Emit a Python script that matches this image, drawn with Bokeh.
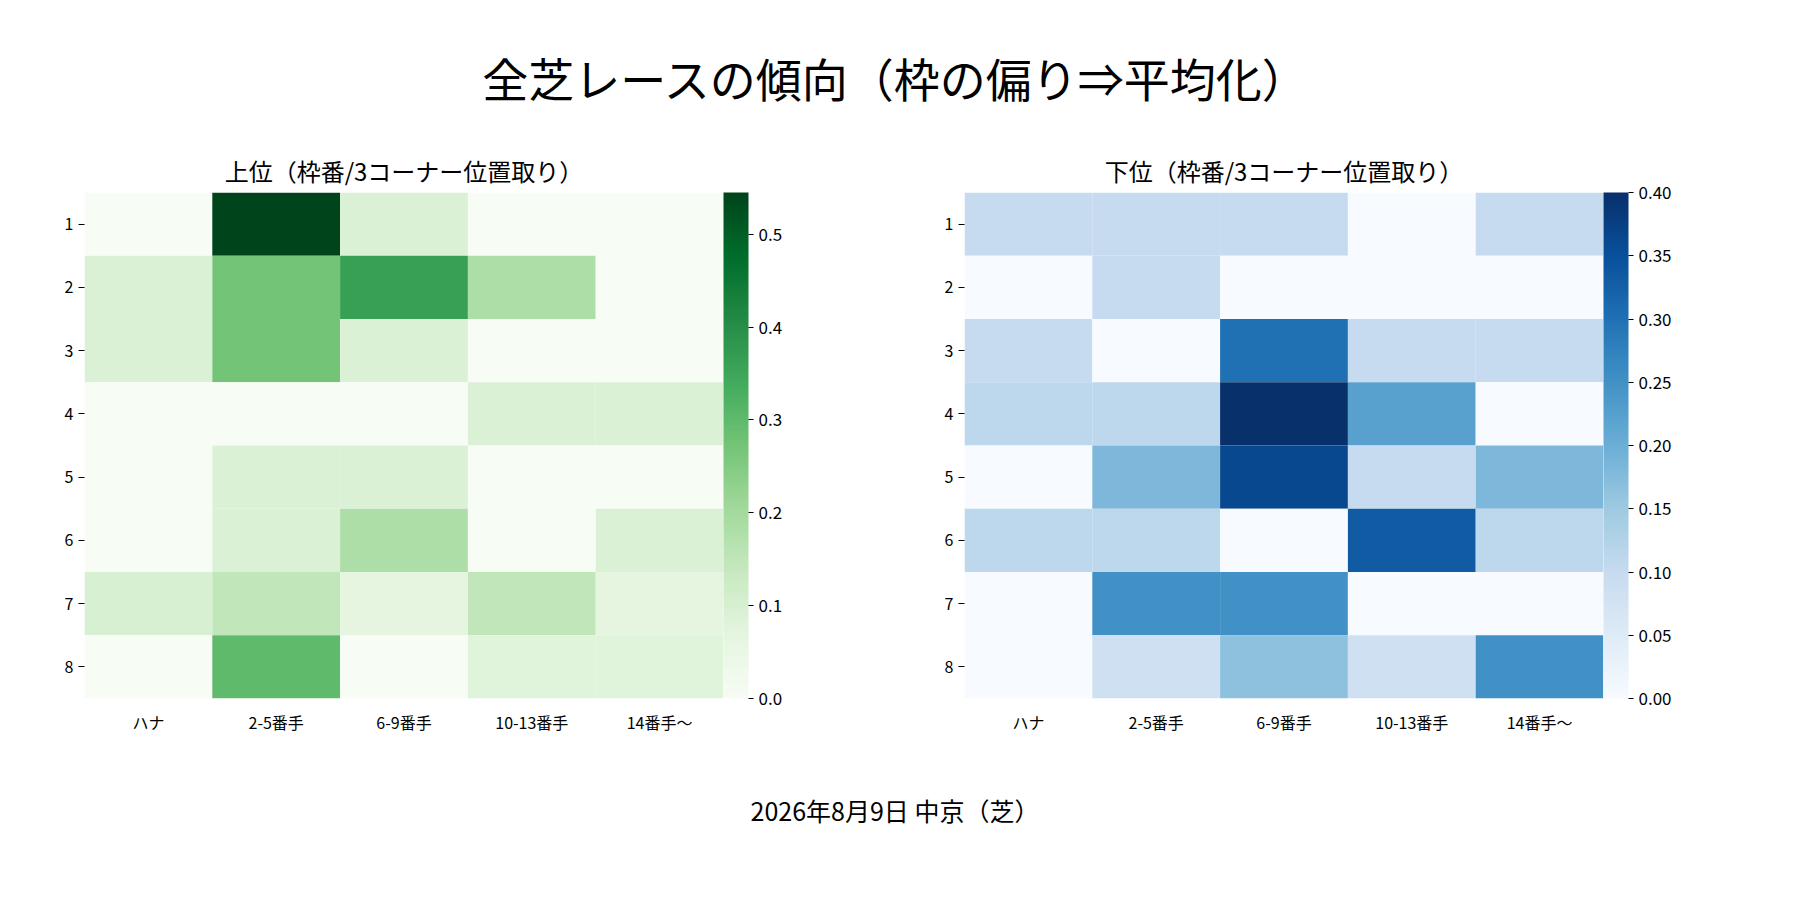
from bokeh.plotting import figure
from bokeh.models import ColumnDataSource, LinearColorMapper, ColorBar, Div, FixedTicker
from bokeh.layouts import column, row
from bokeh.palettes import Greens256, Blues256
from bokeh.embed import file_html
from bokeh.resources import INLINE

cols = ["ハナ", "2-5番手", "6-9番手", "10-13番手", "14番手〜"]
rows = ["1", "2", "3", "4", "5", "6", "7", "8"]
top = [
    [0.0, 0.545, 0.091, 0.0, 0.0],
    [0.091, 0.273, 0.364, 0.182, 0.0],
    [0.091, 0.273, 0.091, 0.0, 0.0],
    [0.0, 0.0, 0.0, 0.091, 0.091],
    [0.0, 0.091, 0.091, 0.0, 0.0],
    [0.0, 0.091, 0.182, 0.0, 0.091],
    [0.1, 0.15, 0.07, 0.15, 0.07],
    [0.0, 0.3, 0.0, 0.08, 0.08],
]
bottom = [
    [0.1, 0.1, 0.1, 0.0, 0.1],
    [0.0, 0.1, 0.0, 0.0, 0.0],
    [0.1, 0.0, 0.3, 0.1, 0.1],
    [0.111, 0.111, 0.4, 0.222, 0.0],
    [0.0, 0.182, 0.364, 0.1, 0.182],
    [0.111, 0.111, 0.0, 0.333, 0.111],
    [0.0, 0.25, 0.25, 0.0, 0.0],
    [0.0, 0.083, 0.167, 0.083, 0.25],
]
FONT = "Noto Sans CJK JP"

def heat(title, data, palette, hi, ticks):
    xs, ys, vs = [], [], []
    for r, vals in zip(rows, data):
        for c, v in zip(cols, vals):
            xs.append(c); ys.append(r); vs.append(v)
    src = ColumnDataSource(dict(x=xs, y=ys, v=vs))
    mapper = LinearColorMapper(palette=list(reversed(palette)), low=0, high=hi)
    p = figure(x_range=cols, y_range=list(reversed(rows)), frame_width=639, frame_height=506,
               output_backend="svg", toolbar_location=None, title=title,
               min_border_left=84, min_border_right=157, min_border_top=5, min_border_bottom=50)
    p.rect("x", "y", 1, 1, source=src, fill_color={"field": "v", "transform": mapper}, line_color=None)
    p.title.text_font = FONT; p.title.text_font_size = "24px"; p.title.align = "center"
    p.title.text_font_style = "normal"; p.title.text_color = "black"
    for ax in (p.xaxis[0], p.yaxis[0]):
        ax.axis_line_color = None
        ax.major_label_text_font = FONT
        ax.major_label_text_font_size = "16px"
        ax.major_label_text_color = "black"
        ax.minor_tick_line_color = None
        ax.major_tick_out = 6; ax.major_tick_in = 0
    p.xaxis.major_tick_line_color = None
    p.grid.visible = False
    p.outline_line_color = None
    cb = ColorBar(color_mapper=mapper, width=25, padding=0, margin=39, location=(0, 0),
                  ticker=FixedTicker(ticks=ticks), major_label_text_font=FONT,
                  major_label_text_font_size="17px", major_label_text_color="black",
                  bar_line_color=None, formatter=None if False else p.yaxis[0].formatter.__class__(),
                  major_tick_line_color="black", major_tick_out=5, major_tick_in=0)
    p.add_layout(cb, "right")
    return p, cb

from bokeh.models import CustomJSTickFormatter
p1, cb1 = heat("上位（枠番/3コーナー位置取り）", top, Greens256, 0.545, [0, 0.1, 0.2, 0.3, 0.4, 0.5])
p2, cb2 = heat("下位（枠番/3コーナー位置取り）", bottom, Blues256, 0.4,
               [0, 0.05, 0.1, 0.15, 0.2, 0.25, 0.3, 0.35, 0.4])
cb1.formatter = CustomJSTickFormatter(code="return tick.toFixed(1);")
cb2.formatter = CustomJSTickFormatter(code="return tick.toFixed(2);")
t = Div(text=f'<div style="font-family:\'{FONT}\';font-size:46px;color:black;text-align:center;width:1780px;padding-top:40px">全芝レースの傾向（枠の偏り⇒平均化）</div>',
        width=1780, height=135)
f = Div(text=f'<div style="font-family:\'{FONT}\';font-size:25px;color:black;text-align:center;width:1780px;padding-top:40px">2026年8月9日 中京（芝）</div>',
        width=1780, height=90)
lay = column(t, row(p1, p2), f)
open("out.html", "w").write(file_html(lay, INLINE))
